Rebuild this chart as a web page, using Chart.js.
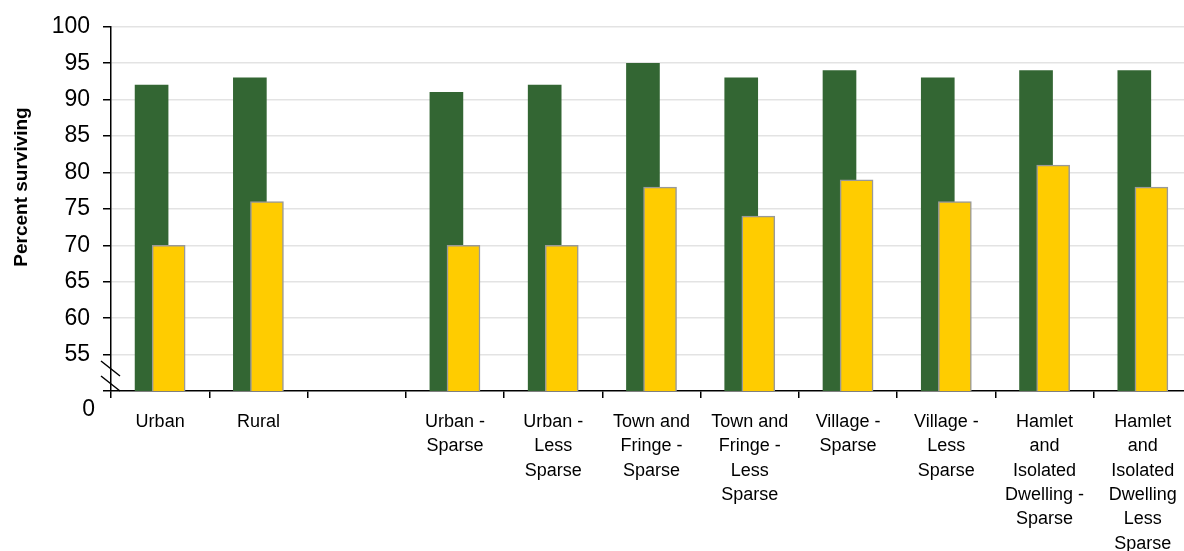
<!DOCTYPE html>
<html>
<head>
<meta charset="utf-8">
<script src="https://cdn.jsdelivr.net/npm/chart.js@4/dist/chart.umd.min.js"></script>
<style>
  html, body { margin: 0; padding: 0; background: #fff; overflow: hidden; }
  #wrap { width: 1200px; height: 551px; }
</style>
</head>
<body>
<div id="wrap"><canvas id="survChart" width="1200" height="551"></canvas></div>
<script>
// categories (already wrapped the way they appear under the axis)
const categories = [
  'Urban',
  'Rural',
  '',
  ['Urban -', 'Sparse'],
  ['Urban -', 'Less', 'Sparse'],
  ['Town and', 'Fringe -', 'Sparse'],
  ['Town and', 'Fringe -', 'Less', 'Sparse'],
  ['Village -', 'Sparse'],
  ['Village -', 'Less', 'Sparse'],
  ['Hamlet', 'and', 'Isolated', 'Dwelling -', 'Sparse'],
  ['Hamlet', 'and', 'Isolated', 'Dwelling', 'Less', 'Sparse']
];
const greenValues  = [92, 93, null, 91, 92, 95, 93, 94, 93, 94, 94];
const yellowValues = [70, 76, null, 70, 70, 78, 74, 79, 76, 81, 78];
const yTicks = [55, 60, 65, 70, 75, 80, 85, 90, 95, 100];

const GREEN = '#336633';
const YELLOW = '#ffcc00';
const FONT = '"Liberation Sans", Arial, sans-serif';

// bars overlap: each series sits a little off the category centre
const SHIFT = 0.087;
function toPoints(vals, dx) {
  return vals.map((v, i) => ({ x: i + dx, y: v }));
}

// axis break marks, the "0" label and the rotated y title
const extras = {
  id: 'extras',
  afterDraw(chart) {
    const c = chart.ctx;
    const y = chart.scales.y;
    c.save();
    c.strokeStyle = '#000';
    c.lineWidth = 1.5;
    c.beginPath();
    c.moveTo(101, 361); c.lineTo(120, 376);
    c.moveTo(101, 376); c.lineTo(120, 391);
    c.stroke();

    c.fillStyle = '#000';
    c.font = '23px ' + FONT;
    c.textAlign = 'right';
    c.textBaseline = 'middle';
    c.fillText('0', 95, y.getPixelForValue(50) + 19);

    c.translate(22, 187);
    c.rotate(-Math.PI / 2);
    c.font = 'bold 19px ' + FONT;
    c.textAlign = 'center';
    c.fillText('Percent surviving', 0, 0);
    c.restore();
  }
};

new Chart(document.getElementById('survChart'), {
  type: 'bar',
  data: {
    labels: categories,
    datasets: [
      {
        label: 'Green',
        data: toPoints(greenValues, -SHIFT),
        backgroundColor: GREEN,
        borderWidth: 0,
        order: 1
      },
      {
        label: 'Yellow',
        data: toPoints(yellowValues, SHIFT),
        backgroundColor: YELLOW,
        borderColor: '#999999',
        borderWidth: 1.5,
        order: 0
      }
    ]
  },
  options: {
    responsive: false,
    animation: false,
    grouped: false,
    barThickness: 33,
    layout: { padding: { top: 25, right: 8, left: 0, bottom: 0 } },
    plugins: { legend: { display: false }, tooltip: { enabled: false } },
    scales: {
      x: {
        type: 'linear',
        display: false,
        offset: false,
        grid: { offset: false },
        min: -0.5,
        max: 10.5
      },
      cat: {
        type: 'category',
        position: 'bottom',
        offset: true,
        afterFit: s => { s.height = 160; },
        grid: { offset: true, drawOnChartArea: false, color: '#000', tickLength: 7, lineWidth: 1.5 },
        border: { color: '#000', width: 1.5 },
        ticks: {
          color: '#000',
          font: { family: FONT, size: 18, lineHeight: 1.35 },
          padding: 12,
          maxRotation: 0,
          autoSkip: false
        }
      },
      y: {
        min: 50,
        max: 100,
        afterFit: s => { s.width = 111; },
        afterBuildTicks: s => {
          s.ticks = [50].concat(yTicks).map(v => ({ value: v }));
        },
        grid: {
          color: ctx => ctx.tick && ctx.tick.value === 50 ? 'rgba(0,0,0,0)' : '#e3e3e3',
          tickColor: '#000',
          tickLength: 8,
          lineWidth: 1.5
        },
        border: { color: '#000', width: 1.5 },
        ticks: {
          color: '#000',
          font: { family: FONT, size: 23 },
          padding: 13,
          callback: v => v === 50 ? '' : v
        }
      }
    }
  },
  plugins: [extras]
});
</script>
</body>
</html>
